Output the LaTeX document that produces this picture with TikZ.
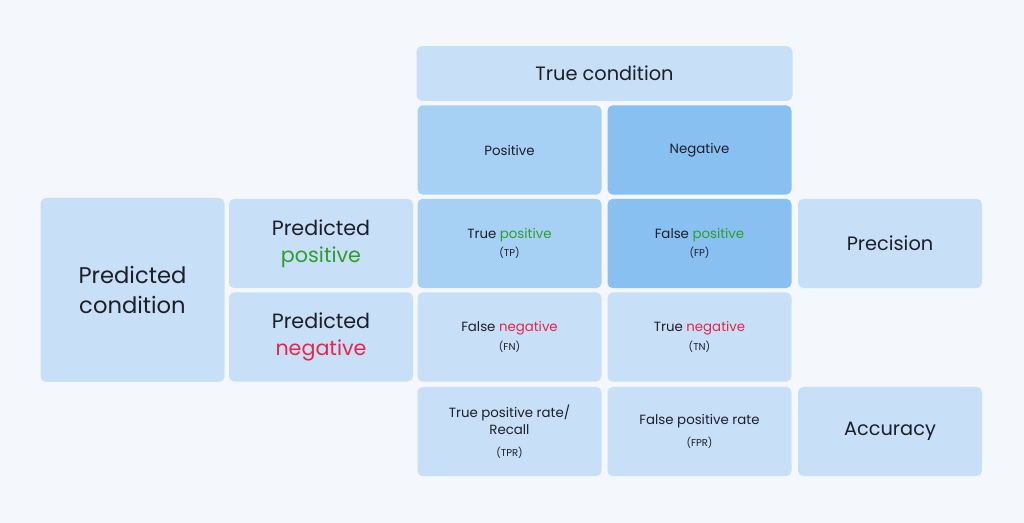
\documentclass[tikz,border=0pt]{standalone}
\usepackage{fontspec}
\setmainfont{Poppins}
\usetikzlibrary{positioning}
\definecolor{bgc}{HTML}{F4F7FC}
\definecolor{cellc}{HTML}{C7E0F8}
\definecolor{midc}{HTML}{A7D0F5}
\definecolor{darkc}{HTML}{88C0F2}
\definecolor{posc}{HTML}{2E9E2E}
\definecolor{negc}{HTML}{E5254A}
\definecolor{txtc}{HTML}{1E1E28}
\tikzset{cell/.style={fill=cellc, rounded corners=4pt, minimum width=138pt, minimum height=67pt,
    text=txtc, align=center, font=\fontsize{10}{13}\selectfont, inner sep=0pt},
  bigcell/.style={cell, font=\fontsize{14.5}{18}\selectfont}}
\newcommand{\abbr}[1]{{\fontsize{7.5}{9}\selectfont #1}}
\begin{document}
\begin{tikzpicture}[x=0.75pt,y=-0.75pt]
\fill[bgc] (0,0) rectangle (1024,523);
%header
\node[bigcell, minimum width=282pt, minimum height=41pt] (truecond) at (604.5,73.5) {True condition};
\node[cell, fill=midc] (pos) at (509.5,150) {Positive};
\node[cell, fill=darkc] (neg) at (699.5,150) {Negative};
%rows
\node[bigcell, minimum height=138pt, font=\fontsize{17}{22}\selectfont] (predcond) at (132.5,290) {Predicted\\condition};
\node[bigcell, font=\fontsize{15.5}{20}\selectfont] (predpos) at (321,243.5) {Predicted\\\textcolor{posc}{positive}};
\node[bigcell, font=\fontsize{15.5}{20}\selectfont] (predneg) at (321,337) {Predicted\\\textcolor{negc}{negative}};
\node[cell, fill=midc] (tp) at (509.5,243.5) {True \textcolor{posc}{positive}\\[1pt]\abbr{(TP)}};
\node[cell, fill=darkc] (fp) at (699.5,243.5) {False \textcolor{posc}{positive}\\[1pt]\abbr{(FP)}};
\node[bigcell] (prec) at (890,243.5) {Precision};
\node[cell] (fn) at (509.5,337) {False \textcolor{negc}{negative}\\[1pt]\abbr{(FN)}};
\node[cell] (tn) at (699.5,337) {True \textcolor{negc}{negative}\\[1pt]\abbr{(TN)}};
%bottom
\node[cell] (tpr) at (509.5,431.5) {True positive rate/\\Recall\\[3pt]\abbr{(TPR)}};
\node[cell] (fpr) at (699.5,431.5) {False positive rate\\[3pt]\abbr{(FPR)}};
\node[bigcell] (acc) at (890,431.5) {Accuracy};
\end{tikzpicture}
\end{document}
